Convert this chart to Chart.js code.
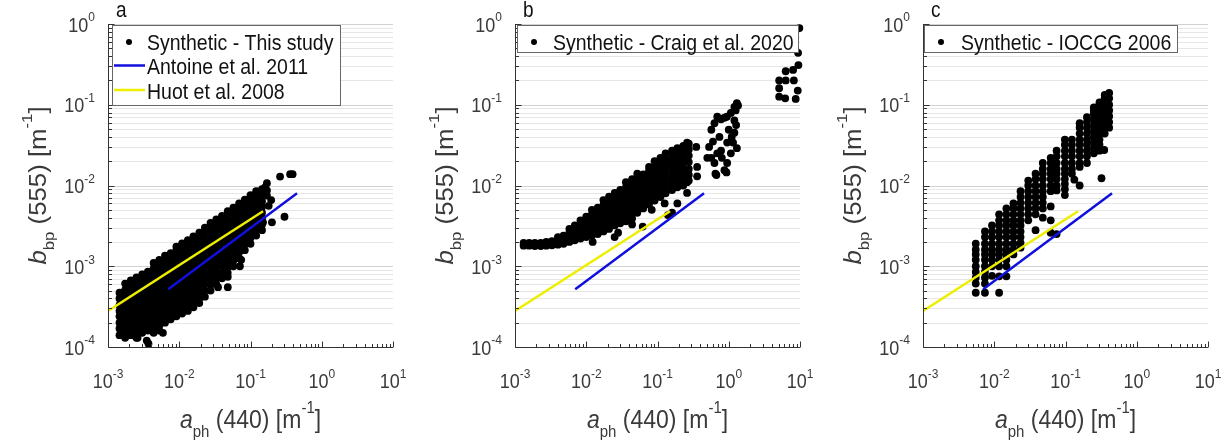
<!DOCTYPE html>
<html lang="en">
<head>
<meta charset="UTF-8" />
<title>bbp(555) vs aph(440)</title>
<style>
  * { margin: 0; padding: 0; }
  body { width: 1232px; height: 441px; background: #fff; position: relative; overflow: hidden; }
  .panel { position: absolute; top: 0; height: 441px; }
</style>
</head>
<body>
<div class="panel" style="left:0;width:410px"><canvas id="chartA"></canvas></div>
<div class="panel" style="left:410px;width:410px"><canvas id="chartB"></canvas></div>
<div class="panel" style="left:820px;width:412px"><canvas id="chartC"></canvas></div>

<script src="https://cdn.jsdelivr.net/npm/chart.js"></script>
<script>
// ---- data ----
// each entry: [a_ph(440), [b_bp(555) values at that a_ph]]
const thisStudyCols = [
  [0.00145, [1.4e-4, 1.7e-4, 2.0e-4, 2.4e-4, 2.8e-4, 3.3e-4, 4.0e-4, 4.7e-4]],
  [0.00174, [1.3e-4, 1.55e-4, 1.85e-4, 2.2e-4, 2.6e-4, 3.1e-4, 3.7e-4, 4.3e-4, 5.1e-4, 6.1e-4]],
  [0.00209, [1.4e-4, 1.7e-4, 2.0e-4, 2.4e-4, 2.8e-4, 3.3e-4, 4.0e-4, 4.7e-4, 5.6e-4, 6.7e-4]],
  [0.00251, [1.3e-4, 1.55e-4, 1.85e-4, 2.2e-4, 2.6e-4, 3.1e-4, 3.7e-4, 4.3e-4, 5.1e-4, 6.1e-4, 7.3e-4]],
  [0.00302, [1.5e-4, 1.7e-4, 2.0e-4, 2.4e-4, 2.8e-4, 3.3e-4, 4.0e-4, 4.7e-4, 5.6e-4, 6.7e-4, 7.9e-4]],
  [0.00363, [1.6e-4, 1.85e-4, 2.2e-4, 2.6e-4, 3.1e-4, 3.7e-4, 4.3e-4, 5.1e-4, 6.1e-4, 7.3e-4, 8.6e-4]],
  [0.00437, [1.5e-4, 1.7e-4, 2.0e-4, 2.4e-4, 2.8e-4, 3.3e-4, 4.0e-4, 4.7e-4, 5.6e-4, 6.7e-4, 7.9e-4, 9.4e-4, 1.1e-3]],
  [0.00525, [1.6e-4, 1.85e-4, 2.2e-4, 2.6e-4, 3.1e-4, 3.7e-4, 4.3e-4, 5.1e-4, 6.1e-4, 7.3e-4, 8.6e-4, 1.02e-3, 1.2e-3]],
  [0.00631, [2.0e-4, 2.4e-4, 2.8e-4, 3.3e-4, 4.0e-4, 4.7e-4, 5.6e-4, 6.7e-4, 7.9e-4, 9.4e-4, 1.12e-3, 1.35e-3]],
  [0.00759, [2.2e-4, 2.6e-4, 3.1e-4, 3.7e-4, 4.3e-4, 5.1e-4, 6.1e-4, 7.3e-4, 8.6e-4, 1.02e-3, 1.2e-3, 1.45e-3]],
  [0.00912, [2.4e-4, 2.8e-4, 3.3e-4, 4.0e-4, 4.7e-4, 5.6e-4, 6.7e-4, 7.9e-4, 9.4e-4, 1.12e-3, 1.33e-3, 1.58e-3, 1.75e-3]],
  [0.01096, [2.6e-4, 3.1e-4, 3.7e-4, 4.3e-4, 5.1e-4, 6.1e-4, 7.3e-4, 8.6e-4, 1.02e-3, 1.2e-3, 1.42e-3, 1.68e-3, 1.92e-3]],
  [0.0132, [2.8e-4, 3.3e-4, 4.0e-4, 4.7e-4, 5.6e-4, 6.7e-4, 7.9e-4, 9.4e-4, 1.12e-3, 1.33e-3, 1.58e-3, 1.85e-3, 2.1e-3]],
  [0.0158, [3.1e-4, 3.7e-4, 4.3e-4, 5.1e-4, 6.1e-4, 7.3e-4, 8.6e-4, 1.02e-3, 1.2e-3, 1.42e-3, 1.68e-3, 2.0e-3, 2.35e-3]],
  [0.0191, [3.5e-4, 4.0e-4, 4.7e-4, 5.6e-4, 6.7e-4, 7.9e-4, 9.4e-4, 1.12e-3, 1.33e-3, 1.58e-3, 1.85e-3, 2.2e-3, 2.6e-3]],
  [0.0229, [4.2e-4, 5.0e-4, 6.0e-4, 7.1e-4, 8.4e-4, 1.0e-3, 1.18e-3, 1.4e-3, 1.65e-3, 1.95e-3, 2.3e-3, 2.75e-3, 3.0e-3]],
  [0.0275, [5.0e-4, 5.9e-4, 7.0e-4, 8.3e-4, 9.8e-4, 1.16e-3, 1.37e-3, 1.62e-3, 1.92e-3, 2.27e-3, 2.7e-3, 3.2e-3, 3.45e-3]],
  [0.0331, [6.0e-4, 7.1e-4, 8.4e-4, 1.0e-3, 1.18e-3, 1.4e-3, 1.65e-3, 1.95e-3, 2.3e-3, 2.75e-3, 3.25e-3, 3.8e-3]],
  [0.0398, [7.1e-4, 8.4e-4, 1.0e-3, 1.18e-3, 1.4e-3, 1.65e-3, 1.95e-3, 2.3e-3, 2.75e-3, 3.25e-3, 3.8e-3, 4.2e-3]],
  [0.0479, [8.3e-4, 9.8e-4, 1.16e-3, 1.37e-3, 1.62e-3, 1.92e-3, 2.27e-3, 2.7e-3, 3.2e-3, 3.8e-3, 4.5e-3, 4.8e-3]],
  [0.0575, [1.0e-3, 1.18e-3, 1.4e-3, 1.65e-3, 1.95e-3, 2.3e-3, 2.75e-3, 3.25e-3, 3.8e-3, 4.5e-3, 5.3e-3]],
  [0.0692, [1.26e-3, 1.49e-3, 1.76e-3, 2.08e-3, 2.46e-3, 2.9e-3, 3.43e-3, 4.05e-3, 4.8e-3, 5.6e-3, 6.0e-3]],
  [0.0832, [1.58e-3, 1.87e-3, 2.2e-3, 2.6e-3, 3.1e-3, 3.65e-3, 4.3e-3, 5.1e-3, 6.0e-3, 6.7e-3]],
  [0.1, [1.9e-3, 2.25e-3, 2.65e-3, 3.15e-3, 3.7e-3, 4.4e-3, 5.2e-3, 6.1e-3, 7.2e-3, 7.6e-3]],
  [0.12, [2.4e-3, 2.85e-3, 3.35e-3, 4.0e-3, 4.7e-3, 5.5e-3, 6.5e-3, 7.7e-3, 8.5e-3]],
  [0.145, [2.8e-3, 3.3e-3, 3.9e-3, 4.6e-3, 5.4e-3, 6.4e-3, 7.6e-3, 9.0e-3]]
];
const thisStudyLoose = [
  [0.0026, 1.3e-4], [0.0035, 1.2e-4], [0.0037, 1.1e-4], [0.0059, 1.5e-4],
  [0.035, 5.5e-4], [0.048, 5.5e-4], [0.048, 7.4e-4], [0.056, 1.05e-3], [0.071, 1.0e-3], [0.074, 1.2e-3],
  [0.16, 9.5e-3], [0.17, 1.07e-2], [0.17, 8.7e-3], [0.17, 7.5e-3], [0.18, 5.6e-3], [0.195, 6.6e-3],
  [0.2, 3.5e-3], [0.15, 3.5e-3], [0.26, 1.29e-2], [0.3, 4.1e-3], [0.36, 1.38e-2], [0.39, 1.38e-2]
];

const craigCols = [
  [0.00132, [1.8e-3, 1.95e-3]],
  [0.00158, [1.8e-3, 1.95e-3]],
  [0.0019, [1.78e-3, 1.95e-3]],
  [0.0023, [1.78e-3, 1.95e-3]],
  [0.00275, [1.8e-3, 2.0e-3]],
  [0.0033, [1.82e-3, 2.05e-3]],
  [0.004, [1.85e-3, 2.1e-3, 2.3e-3]],
  [0.0048, [1.9e-3, 2.15e-3, 2.4e-3]],
  [0.0058, [2.0e-3, 2.3e-3, 2.6e-3, 2.9e-3]],
  [0.0069, [2.1e-3, 2.4e-3, 2.8e-3, 3.2e-3]],
  [0.0083, [2.2e-3, 2.5e-3, 2.9e-3, 3.3e-3, 3.7e-3]],
  [0.01, [2.3e-3, 2.7e-3, 3.1e-3, 3.6e-3, 4.1e-3]],
  [0.012, [2.4e-3, 2.8e-3, 3.3e-3, 3.8e-3, 4.4e-3, 5.0e-3]],
  [0.0145, [2.5e-3, 2.9e-3, 3.4e-3, 3.9e-3, 4.5e-3, 5.3e-3]],
  [0.0174, [2.7e-3, 3.1e-3, 3.6e-3, 4.2e-3, 4.9e-3, 5.7e-3, 6.6e-3]],
  [0.0209, [2.9e-3, 3.4e-3, 4.0e-3, 4.6e-3, 5.4e-3, 6.3e-3, 7.3e-3]],
  [0.0251, [3.2e-3, 3.7e-3, 4.3e-3, 5.0e-3, 5.9e-3, 6.9e-3, 8.1e-3]],
  [0.03, [3.4e-3, 4.0e-3, 4.7e-3, 5.5e-3, 6.4e-3, 7.5e-3, 8.8e-3]],
  [0.036, [3.6e-3, 4.2e-3, 5.0e-3, 5.9e-3, 6.9e-3, 8.1e-3, 9.5e-3, 1.1e-2]],
  [0.044, [3.9e-3, 4.6e-3, 5.4e-3, 6.4e-3, 7.5e-3, 8.8e-3, 1.03e-2, 1.2e-2]],
  [0.052, [4.6e-3, 5.4e-3, 6.3e-3, 7.4e-3, 8.7e-3, 1.02e-2, 1.2e-2, 1.4e-2]],
  [0.063, [5.2e-3, 6.1e-3, 7.2e-3, 8.5e-3, 1.0e-2, 1.17e-2, 1.37e-2]],
  [0.076, [5.8e-3, 6.8e-3, 8.0e-3, 9.4e-3, 1.1e-2, 1.3e-2, 1.52e-2, 1.7e-2]],
  [0.091, [6.5e-3, 7.6e-3, 9.0e-3, 1.06e-2, 1.25e-2, 1.47e-2, 1.72e-2, 2.0e-2]],
  [0.11, [7.2e-3, 8.5e-3, 1.0e-2, 1.18e-2, 1.39e-2, 1.63e-2, 1.92e-2, 2.2e-2]],
  [0.13, [8.0e-3, 9.4e-3, 1.1e-2, 1.3e-2, 1.53e-2, 1.8e-2, 2.1e-2, 2.5e-2]],
  [0.16, [8.8e-3, 1.04e-2, 1.22e-2, 1.44e-2, 1.7e-2, 2.0e-2, 2.35e-2, 2.7e-2]],
  [0.19, [9.5e-3, 1.12e-2, 1.32e-2, 1.55e-2, 1.83e-2, 2.15e-2, 2.5e-2, 2.9e-2]],
  [0.23, [1.0e-2, 1.2e-2, 1.4e-2, 1.65e-2, 1.95e-2, 2.3e-2, 2.7e-2, 3.1e-2]],
  [0.275, [1.15e-2, 1.35e-2, 1.6e-2, 1.95e-2, 2.35e-2, 2.8e-2, 3.3e-2]]
];
const craigLoose = [
  [0.0123, 2.0e-3], [0.025, 2.3e-3], [0.028, 2.6e-3], [0.035, 4.0e-3], [0.044, 3.3e-3],
  [0.062, 3.1e-3], [0.083, 5.0e-3], [0.126, 6.0e-3], [0.14, 4.3e-3], [0.16, 4.6e-3],
  [0.19, 6.0e-3], [0.26, 8.1e-3], [0.26, 1.1e-2], [0.36, 1.3e-2], [0.36, 1.7e-2],
  [0.35, 3.0e-2], [0.26, 3.4e-2],
  // cluster around a_ph ~ 1
  [0.5, 2.2e-2], [0.53, 3.0e-2], [0.57, 4.9e-2], [0.63, 5.9e-2], [0.69, 7.1e-2], [0.78, 6.6e-2],
  [0.87, 6.9e-2], [0.94, 7.1e-2], [1.07, 7.9e-2], [1.2, 9.4e-2], [1.3, 1.05e-1], [1.35, 9.8e-2],
  [1.25, 8.5e-2], [1.27, 5.6e-2], [1.2, 6.4e-2], [1.2, 4.5e-2], [1.15, 3.4e-2], [1.3, 2.9e-2],
  [1.07, 2.5e-2], [0.95, 1.9e-2], [0.87, 1.55e-2], [0.67, 1.35e-2], [0.63, 1.9e-2], [0.69, 2.5e-2],
  [0.78, 2.7e-2], [0.6, 3.5e-2], [0.74, 4.0e-2], [1.0, 4.9e-2], [1.1, 4.0e-2], [0.95, 3.4e-2],
  [0.8, 2.2e-2], [0.57, 2.2e-2], [0.93, 1.45e-2], [0.65, 1.4e-2],
  // cluster around a_ph ~ 5-10
  [5.1, 0.2], [5.1, 0.16], [5.1, 0.126], [6.2, 0.12], [6.3, 0.26], [6.3, 0.2], [8.0, 0.27],
  [8.2, 0.2], [8.7, 0.118], [9.3, 0.15], [9.5, 0.31], [9.4, 0.44], [9.8, 0.89]
];

const ioccgCols = [
  [0.0055, [6.1e-4, 7.2e-4, 8.5e-4, 1.0e-3, 1.2e-3, 1.4e-3, 1.6e-3, 1.9e-3]],
  [0.0074, [6.1e-4, 7.2e-4, 8.5e-4, 1.0e-3, 1.2e-3, 1.4e-3, 1.6e-3, 1.9e-3, 2.3e-3, 2.7e-3]],
  [0.0093, [7.6e-4, 1.0e-3, 1.2e-3, 1.4e-3, 1.6e-3, 1.9e-3, 2.3e-3, 2.7e-3, 3.2e-3]],
  [0.0117, [7.5e-4, 1.0e-3, 1.2e-3, 1.4e-3, 1.6e-3, 1.9e-3, 2.3e-3, 2.7e-3, 3.2e-3, 3.7e-3, 4.4e-3]],
  [0.0148, [7.5e-4, 1.0e-3, 1.2e-3, 1.4e-3, 1.6e-3, 1.9e-3, 2.3e-3, 2.7e-3, 3.2e-3, 3.7e-3, 4.4e-3, 5.2e-3]],
  [0.0186, [1.4e-3, 1.6e-3, 1.9e-3, 2.3e-3, 2.7e-3, 3.2e-3, 3.7e-3, 4.4e-3, 5.2e-3, 6.0e-3]],
  [0.0234, [1.7e-3, 1.95e-3, 2.3e-3, 2.7e-3, 3.2e-3, 3.7e-3, 4.4e-3, 5.2e-3, 6.1e-3, 7.2e-3, 8.5e-3]],
  [0.03, [3.7e-3, 4.4e-3, 5.2e-3, 6.1e-3, 7.2e-3, 8.5e-3, 1.0e-2, 1.15e-2]],
  [0.038, [4.4e-3, 5.2e-3, 6.1e-3, 7.2e-3, 8.5e-3, 1.0e-2, 1.2e-2, 1.4e-2]],
  [0.048, [5.2e-3, 6.1e-3, 7.2e-3, 8.5e-3, 1.0e-2, 1.2e-2, 1.4e-2, 1.6e-2, 1.9e-2]],
  [0.062, [8.5e-3, 1.0e-2, 1.2e-2, 1.4e-2, 1.6e-2, 1.9e-2, 2.2e-2]],
  [0.075, [8.7e-3, 1.0e-2, 1.2e-2, 1.4e-2, 1.6e-2, 1.9e-2, 2.3e-2, 2.7e-2]],
  [0.098, [7.6e-3, 9.0e-3, 1.05e-2, 1.2e-2, 1.4e-2, 1.6e-2, 1.9e-2, 2.3e-2, 2.7e-2, 3.2e-2, 3.7e-2]],
  [0.123, [1.4e-2, 1.6e-2, 1.9e-2, 2.3e-2, 2.7e-2, 3.2e-2, 3.7e-2]],
  [0.158, [1.7e-2, 1.9e-2, 2.3e-2, 2.7e-2, 3.2e-2, 3.7e-2, 4.4e-2, 5.2e-2, 5.9e-2]],
  [0.2, [1.9e-2, 2.3e-2, 2.7e-2, 3.2e-2, 3.7e-2, 4.4e-2, 5.2e-2, 6.1e-2, 7.0e-2]],
  [0.25, [2.5e-2, 2.9e-2, 3.4e-2, 4.0e-2, 4.7e-2, 5.5e-2, 6.5e-2, 7.7e-2, 8.5e-2, 9.3e-2]],
  [0.3, [2.7e-2, 3.2e-2, 3.7e-2, 4.4e-2, 5.2e-2, 6.1e-2, 7.2e-2, 8.5e-2, 1.0e-1, 1.07e-1]],
  [0.355, [4.4e-2, 5.2e-2, 6.1e-2, 7.2e-2, 8.5e-2, 1.0e-1, 1.2e-1, 1.32e-1]],
  [0.41, [5.2e-2, 6.1e-2, 7.2e-2, 8.5e-2, 1.0e-1, 1.2e-1, 1.4e-1]]
];
const ioccgLoose = [
  [0.0055, 4.7e-4], [0.0074, 4.7e-4], [0.0117, 4.7e-4], [0.038, 2.8e-3], [0.048, 4.0e-3],
  [0.062, 2.6e-3], [0.062, 3.7e-3], [0.062, 5.5e-3], [0.075, 2.5e-3], [0.133, 1.18e-2],
  [0.158, 1.0e-2], [0.32, 1.23e-2], [0.35, 2.75e-2]
];

// model lines, end points
const antoineX = [0.007, 0.45];
const antoineY = [5.2e-4, 8.0e-3];
const huotX = [0.001, 0.15];
const huotY = [2.8e-4, 4.8e-3];

const xTickExp = [-3, -2, -1, 0, 1];
const yTickExp = [-4, -3, -2, -1, 0];

// ---- drawing helpers ----
const FONT = '"Liberation Sans", Arial, Helvetica, sans-serif';
const STRETCH = 1.12; // figure was scaled taller than wide
const AXIS_COLOR = '#333333';
const TEXT_COLOR = '#3a3a3a';

function partFont(p, size) {
  const s = (p.sub || p.sup) ? Math.round(size * 0.66) : size;
  return (p.it ? 'italic ' : '') + s + 'px ' + FONT;
}

function drawRich(ctx, parts, x, y, size, o) {
  ctx.save();
  ctx.translate(x, y);
  ctx.scale(1, STRETCH);
  if (o.rotate) ctx.rotate(-Math.PI / 2);
  let w = 0;
  parts.forEach(p => { ctx.font = partFont(p, size); w += ctx.measureText(p.t).width; });
  let cx = o.align === 'center' ? -w / 2 : (o.align === 'right' ? -w : 0);
  ctx.textAlign = 'left';
  ctx.textBaseline = 'alphabetic';
  ctx.fillStyle = o.color || TEXT_COLOR;
  parts.forEach(p => {
    ctx.font = partFont(p, size);
    const dy = p.sub ? size * (o.subShift || 0.36) : (p.sup ? -size * (o.supShift || 0.5) : 0);
    ctx.fillText(p.t, cx, dy);
    cx += ctx.measureText(p.t).width;
  });
  ctx.restore();
}

function toPoints(cols, loose) {
  const pts = [];
  cols.forEach(([x, ys]) => ys.forEach(v => pts.push({ x: x, y: v })));
  loose.forEach(([x, v]) => pts.push({ x: x, y: v }));
  return pts;
}

function linePoints(xs, ys) {
  return xs.map((x, i) => ({ x: x, y: ys[i] }));
}

const matlabAxes = {
  id: 'matlabAxes',
  beforeDatasetsDraw(chart) {
    const { ctx, chartArea: a, scales: { y } } = chart;
    ctx.save();
    ctx.lineWidth = 1;
    for (let e = -4; e <= 0; e++) {
      for (let k = 1; k <= 9; k++) {
        const v = k * Math.pow(10, e);
        if (v > 1) break;
        const py = Math.round(y.getPixelForValue(v)) + 0.5;
        ctx.strokeStyle = k === 1 ? '#d2d2d2' : '#e6e6e6';
        ctx.beginPath();
        ctx.moveTo(a.left, py);
        ctx.lineTo(a.right, py);
        ctx.stroke();
      }
    }
    ctx.restore();
  },
  afterDraw(chart, args, opts) {
    const { ctx, chartArea: a, scales: { x, y } } = chart;
    ctx.save();
    const L = Math.round(a.left) + 0.5;
    const B = Math.round(a.bottom) + 0.5;

    // axis lines
    ctx.strokeStyle = AXIS_COLOR;
    ctx.lineWidth = 1;
    ctx.beginPath();
    ctx.moveTo(L, a.top);
    ctx.lineTo(L, B);
    ctx.lineTo(a.right, B);
    ctx.stroke();

    // inward ticks
    ctx.beginPath();
    for (let e = -3; e <= 1; e++) {
      for (let k = 1; k <= 9; k++) {
        const v = k * Math.pow(10, e);
        if (v > 10) break;
        const px = Math.round(x.getPixelForValue(v)) + 0.5;
        ctx.moveTo(px, B);
        ctx.lineTo(px, B - (k === 1 ? 6 : 3.5));
      }
    }
    for (let e = -4; e <= 0; e++) {
      for (let k = 1; k <= 9; k++) {
        const v = k * Math.pow(10, e);
        if (v > 1) break;
        const py = Math.round(y.getPixelForValue(v)) + 0.5;
        ctx.moveTo(L, py);
        ctx.lineTo(L + (k === 1 ? 6 : 3.5), py);
      }
    }
    ctx.stroke();

    // tick labels
    xTickExp.forEach(e => {
      drawRich(ctx, [{ t: '10' }, { t: String(e), sup: true }],
        x.getPixelForValue(Math.pow(10, e)), a.bottom + 41, 18, { align: 'center' });
    });
    yTickExp.forEach(e => {
      drawRich(ctx, [{ t: '10' }, { t: String(e), sup: true }],
        a.left - 13, y.getPixelForValue(Math.pow(10, e)) + 7.5, 18, { align: 'right' });
    });

    // axis titles
    drawRich(ctx, [{ t: 'a', it: true }, { t: 'ph', sub: true }, { t: ' (440) [m' }, { t: '-1', sup: true }, { t: ']' }],
      (a.left + a.right) / 2, 428, 23, { align: 'center', supShift: 0.6, subShift: 0.36 });
    drawRich(ctx, [{ t: 'b', it: true }, { t: 'bp', sub: true }, { t: ' (555) [m' }, { t: '-1', sup: true }, { t: ']' }],
      a.left - 62, (a.top + a.bottom) / 2, 23, { align: 'center', rotate: true, supShift: 0.6, subShift: 0.36 });

    // panel letter
    drawRich(ctx, [{ t: opts.letter }], a.left + 8, 17, 19, { align: 'left', color: '#111' });

    // legend box
    const lg = opts.legend;
    ctx.fillStyle = '#fff';
    ctx.fillRect(lg.x, lg.y, lg.w, lg.h);
    ctx.strokeStyle = '#666';
    ctx.lineWidth = 1;
    ctx.strokeRect(lg.x + 0.5, lg.y + 0.5, lg.w, lg.h);
    lg.items.forEach((it, i) => {
      const cy = lg.y + 17 + i * 24.5;
      if (it.kind === 'dot') {
        ctx.fillStyle = '#000';
        ctx.beginPath();
        ctx.arc(lg.x + 17, cy, 3, 0, Math.PI * 2);
        ctx.fill();
      } else {
        ctx.strokeStyle = it.color;
        ctx.lineWidth = 2.5;
        ctx.beginPath();
        ctx.moveTo(lg.x + 2, cy - 1);
        ctx.lineTo(lg.x + 33, cy - 1);
        ctx.stroke();
      }
      drawRich(ctx, [{ t: it.label }], lg.x + lg.tx, cy + 7.5, 19.5, { align: 'left', color: '#111' });
    });
    ctx.restore();
  }
};

const BLUE = '#1010dd';
const YELLOW = '#eeee00';

function makePanel(id, points, letter, legend, pad) {
  return new Chart(document.getElementById(id), {
    type: 'scatter',
    data: {
      datasets: [
        { data: points, pointRadius: 3.9, pointBackgroundColor: '#000', pointBorderWidth: 0, clip: false, order: 3 },
        { data: linePoints(antoineX, antoineY), showLine: true, borderColor: BLUE, borderWidth: 2.5, pointRadius: 0, order: 2 },
        { data: linePoints(huotX, huotY), showLine: true, borderColor: YELLOW, borderWidth: 2.5, pointRadius: 0, order: 1 }
      ]
    },
    options: {
      responsive: true,
      maintainAspectRatio: false,
      animation: false,
      devicePixelRatio: 1,
      layout: { padding: pad },
      scales: {
        x: { type: 'logarithmic', min: 1e-3, max: 10, display: false },
        y: { type: 'logarithmic', min: 1e-4, max: 1, display: false }
      },
      plugins: {
        legend: { display: false },
        tooltip: { enabled: false },
        matlabAxes: { letter: letter, legend: legend }
      }
    },
    plugins: [matlabAxes]
  });
}

makePanel('chartA', toPoints(thisStudyCols, thisStudyLoose), 'a', {
  x: 112, y: 25, w: 228, h: 80, tx: 35,
  items: [
    { kind: 'dot', label: 'Synthetic - This study' },
    { kind: 'line', color: BLUE, label: 'Antoine et al. 2011' },
    { kind: 'line', color: YELLOW, label: 'Huot et al. 2008' }
  ]
}, { left: 108, right: 17, top: 24, bottom: 94 });

makePanel('chartB', toPoints(craigCols, craigLoose), 'b', {
  x: 107, y: 25, w: 281, h: 27, tx: 36,
  items: [{ kind: 'dot', label: 'Synthetic - Craig et al. 2020' }]
}, { left: 105, right: 20, top: 24, bottom: 94 });

makePanel('chartC', toPoints(ioccgCols, ioccgLoose), 'c', {
  x: 104, y: 25, w: 253, h: 27, tx: 37,
  items: [{ kind: 'dot', label: 'Synthetic - IOCCG 2006' }]
}, { left: 103, right: 24, top: 24, bottom: 94 });
</script>
</body>
</html>
